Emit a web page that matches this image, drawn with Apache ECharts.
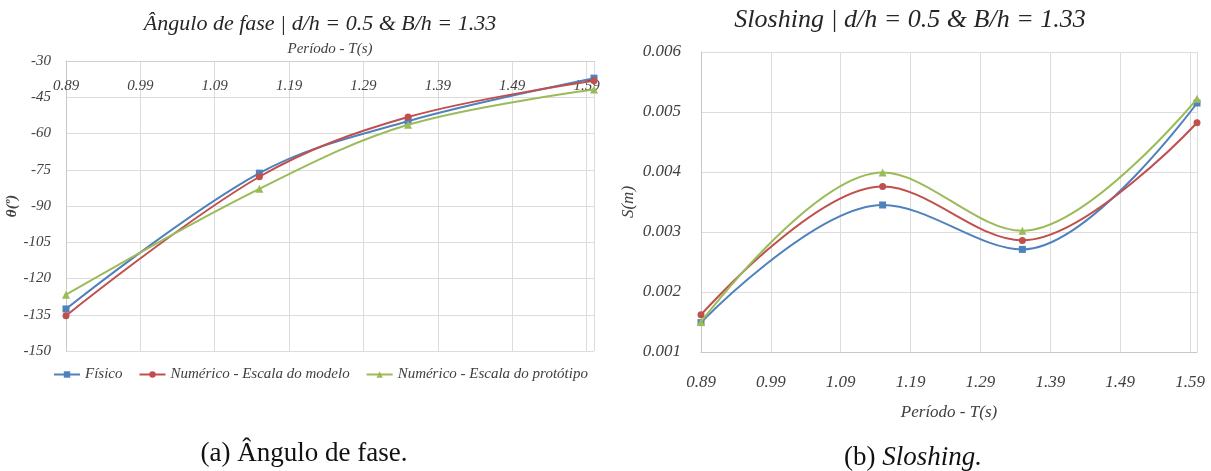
<!DOCTYPE html>
<html>
<head>
<meta charset="utf-8">
<script src="https://cdn.jsdelivr.net/npm/echarts@6/dist/echarts.min.js"></script>
<style>
html, body { margin: 0; padding: 0; background: #fff; }
#main { width: 1211px; height: 471px; }
</style>
</head>
<body>
<div id="main"></div>
<script>
// periodo das ondas (s)
var periodo = [0.89, 1.15, 1.35, 1.60];

// angulo de fase (graus)
var anguloFisico = [-132.6, -76.4, -54.9, -37.1];
var anguloModelo = [-135.4, -77.9, -53.2, -38.2];
var anguloPrototipo = [-126.7, -82.9, -56.4, -41.8];

// sloshing S(m)
var sloshFisico = [0.00149, 0.00345, 0.00271, 0.00515];
var sloshModelo = [0.00162, 0.00376, 0.00286, 0.00482];
var sloshPrototipo = [0.00150, 0.00399, 0.00302, 0.00522];

var nomes = ['Físico', 'Numérico - Escala do modelo', 'Numérico - Escala do protótipo'];
var cores = ['#4F81BD', '#C0504D', '#9BBB59'];
var simbolos = ['rect', 'circle', 'triangle'];
var tamanhos = [7, 7, 8];

var serif = 'Liberation Serif';
var corTexto = '#404040';

function pares(xs, ys) {
	var out = [];
	for (var i = 0; i < xs.length; i++) {
		out.push([xs[i], ys[i]]);
	}
	return out;
}

// o eixo vai ate 1.60, mas o ultimo rotulo e 1.59
function rotuloX(v) {
	if (v > 1.595) return '';
	return v.toFixed(2);
}

function serie(i, dados, eixo) {
	return {
		name : nomes[i],
		type : 'line',
		xAxisIndex : eixo,
		yAxisIndex : eixo,
		smooth : 0.35,
		symbol : simbolos[i],
		symbolSize : tamanhos[i],
		showAllSymbol : true,
		lineStyle : { color : cores[i], width : 2 },
		itemStyle : { color : cores[i] },
		data : pares(periodo, dados),
		z : 3 + i
	};
}

var option = {
	animation : false,
	backgroundColor : '#fff',
	textStyle : { fontFamily : serif },
	graphic : [ {
		type : 'text', x : 320, y : 24,
		style : { text : 'Ângulo de fase | d/h = 0.5 & B/h = 1.33', font : 'italic 22px "Liberation Serif"', fill : '#262626', align : 'center', verticalAlign : 'middle' }
	}, {
		type : 'text', x : 910, y : 20,
		style : { text : 'Sloshing | d/h = 0.5 & B/h = 1.33', font : 'italic 26px "Liberation Serif"', fill : '#262626', align : 'center', verticalAlign : 'middle' }
	}, {
		type : 'text', x : 304, y : 454,
		style : { text : '(a) Ângulo de fase.', font : '27px "Liberation Serif"', fill : '#111', align : 'center', verticalAlign : 'middle' }
	}, {
		type : 'text', x : 913, y : 458,
		style : {
			text : '(b) {i|Sloshing.}', font : '27px "Liberation Serif"', fill : '#111', align : 'center', verticalAlign : 'middle',
			rich : { i : { fontStyle : 'italic', fontSize : 27, fontFamily : serif, fill : '#111' } }
		}
	} ],
	legend : {
		left : 48,
		top : 362,
		itemWidth : 26,
		itemHeight : 8,
		itemGap : 16,
		data : nomes,
		textStyle : { fontFamily : serif, fontStyle : 'italic', fontSize : 15, color : corTexto }
	},
	grid : [ {
		left : 66, top : 61, width : 528, height : 290
	}, {
		left : 701, top : 52, width : 496, height : 300
	} ],
	xAxis : [ {
		type : 'value',
		gridIndex : 0,
		position : 'top',
		min : 0.89,
		max : 1.60,
		interval : 0.1,
		name : 'Período - T(s)',
		nameLocation : 'middle',
		nameGap : 2,
		nameTextStyle : { fontFamily : serif, fontStyle : 'italic', fontSize : 15, color : corTexto },
		axisLine : { show : true, lineStyle : { color : '#d0d0d0' } },
		axisTick : { show : false },
		axisLabel : { inside : true, margin : 18, formatter : rotuloX, fontFamily : serif, fontStyle : 'italic', fontSize : 15, color : corTexto },
		splitLine : { show : true, lineStyle : { color : '#dcdcdc' } }
	}, {
		type : 'value',
		gridIndex : 1,
		min : 0.89,
		max : 1.60,
		interval : 0.1,
		name : 'Período - T(s)',
		nameLocation : 'middle',
		nameGap : 52,
		nameTextStyle : { fontFamily : serif, fontStyle : 'italic', fontSize : 17, color : corTexto },
		axisLine : { show : true, lineStyle : { color : '#c8c8c8' } },
		axisTick : { show : false },
		axisLabel : { margin : 22, formatter : rotuloX, fontFamily : serif, fontStyle : 'italic', fontSize : 17, color : corTexto },
		splitLine : { show : true, lineStyle : { color : '#dcdcdc' } }
	} ],
	yAxis : [ {
		type : 'value',
		gridIndex : 0,
		min : -150,
		max : -30,
		interval : 15,
		name : 'θ(º)',
		nameLocation : 'middle',
		nameGap : 42,
		nameRotate : 90,
		nameTextStyle : { fontFamily : serif, fontStyle : 'italic', fontWeight : 'bold', fontSize : 15, color : corTexto },
		axisLine : { show : true, lineStyle : { color : '#c8c8c8' } },
		axisTick : { show : false },
		axisLabel : { margin : 15, fontFamily : serif, fontStyle : 'italic', fontSize : 15, color : corTexto },
		splitLine : { show : true, lineStyle : { color : '#dcdcdc' } }
	}, {
		type : 'value',
		gridIndex : 1,
		min : 0.001,
		max : 0.006,
		interval : 0.001,
		name : 'S(m)',
		nameLocation : 'middle',
		nameGap : 64,
		nameRotate : 90,
		nameTextStyle : { fontFamily : serif, fontStyle : 'italic', fontSize : 17, color : corTexto },
		axisLine : { show : true, lineStyle : { color : '#c8c8c8' } },
		axisTick : { show : false },
		axisLabel : { margin : 20, formatter : function(v) { return v.toFixed(3); }, fontFamily : serif, fontStyle : 'italic', fontSize : 17, color : corTexto },
		splitLine : { show : true, lineStyle : { color : '#dcdcdc' } }
	} ],
	series : [
		serie(0, anguloFisico, 0),
		serie(1, anguloModelo, 0),
		serie(2, anguloPrototipo, 0),
		serie(0, sloshFisico, 1),
		serie(1, sloshModelo, 1),
		serie(2, sloshPrototipo, 1)
	]
};

var myChart = echarts.init(document.getElementById('main'));
myChart.setOption(option);
</script>
</body>
</html>
